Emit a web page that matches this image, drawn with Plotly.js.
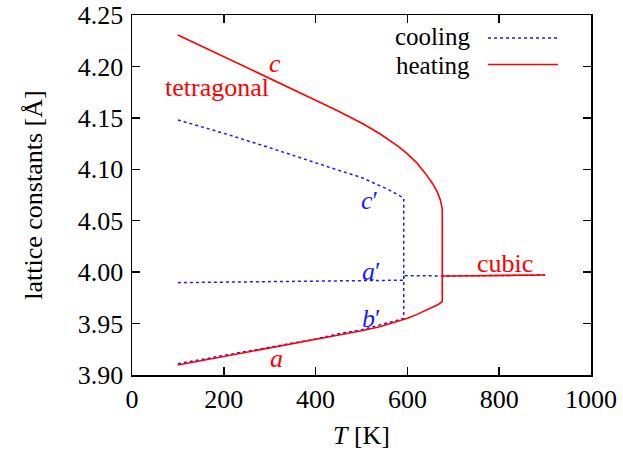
<!DOCTYPE html>
<html>
<head>
<meta charset="utf-8">
<script src="https://cdn.plot.ly/plotly-3.0.1.min.js"></script>
<style>html,body{margin:0;padding:0;background:#fff;}#chart{width:623px;height:453px;}</style>
</head>
<body>
<div id="chart"></div>
<script>
// Heating (tetragonal branch)
const T_heat = [100, 200, 300, 400, 450, 500, 540, 580, 600, 620, 640, 655, 665, 672, 676];
const c_heat = [4.2306, 4.2097, 4.1886, 4.1672, 4.1565, 4.1450, 4.1345, 4.1222, 4.1150, 4.1065, 4.0955, 4.0860, 4.0780, 4.0700, 4.0610];
const a_heat = [3.9097, 3.9180, 3.9258, 3.9340, 3.9382, 3.9430, 3.9470, 3.9520, 3.9552, 3.9587, 3.9627, 3.9658, 3.9681, 3.9700, 3.9715];
// Heating (cubic branch)
const T_cub_heat = [676, 700, 800, 900];
const cub_heat = [3.9963, 3.9963, 3.9967, 3.9972];
// Cooling (tetragonal/orthorhombic branch)
const T_cool = [100, 200, 300, 400, 450, 500, 526, 560, 592];
const c_cool = [4.148, 4.135, 4.121, 4.106, 4.099, 4.092, 4.087, 4.080, 4.072];
const b_cool = [3.911, 3.919, 3.927, 3.935, 3.940, 3.944, 3.947, 3.951, 3.955];
const a_cool = [3.9898, 3.9903, 3.9908, 3.9913, 3.9915, 3.9917, 3.9919, 3.9920, 3.9922];
// Cooling (cubic branch)
const T_cub_cool = [592, 676, 700, 800, 900];
const cub_cool = [3.9966, 3.9963, 3.9963, 3.9967, 3.9972];

const xTicks = [0, 200, 400, 600, 800, 1000];
const FONT = '"Liberation Serif", "Times New Roman", serif';
const RED = '#ff0000';
const BLUE = '#1a1aff';

const blueLine = {color: BLUE, width: 1.5, dash: '3px,3px'};
const redLine = {color: RED, width: 1.6};

const traces = [
  {x: T_cool.concat(T_cub_cool), y: c_cool.concat(cub_cool), mode: 'lines', line: blueLine, name: 'cooling', showlegend: false},
  {x: T_cool.concat([592]), y: b_cool.concat([cub_cool[0]]), mode: 'lines', line: blueLine, showlegend: false},
  {x: T_cool.concat([592]), y: a_cool.concat([cub_cool[0]]), mode: 'lines', line: blueLine, showlegend: false},
  {x: T_heat.concat(T_cub_heat), y: c_heat.concat(cub_heat), mode: 'lines', line: redLine, name: 'heating', showlegend: false},
  {x: T_heat.concat([676]), y: a_heat.concat([cub_heat[0]]), mode: 'lines', line: redLine, showlegend: false}
];

function lab(text, x, y, color) {
  return {text: text, x: x, y: y, xref: 'x', yref: 'y', showarrow: false,
          font: {family: FONT, size: 26, color: color}, xanchor: 'center', yanchor: 'middle'};
}

const layout = {
  width: 623, height: 453,
  margin: {l: 132, r: 32, t: 15, b: 78},
  paper_bgcolor: '#fff', plot_bgcolor: '#fff',
  font: {family: FONT, size: 26, color: '#000'},
  showlegend: false,
  xaxis: {
    range: [0, 1000], tickvals: xTicks, ticktext: xTicks.map(String),
    ticks: 'inside', ticklen: 8, tickwidth: 1.5, tickcolor: '#000',
    showline: true, linecolor: '#000', linewidth: 1.5, mirror: 'ticks',
    showgrid: false, zeroline: false, ticklabelstandoff: 0,
    tickfont: {family: FONT, size: 26, color: '#000'},
    title: {text: '<i>T</i> [K]', font: {family: FONT, size: 26, color: '#000'}, standoff: 13}
  },
  yaxis: {
    range: [3.90, 4.25], dtick: 0.05, tick0: 3.90, tickformat: '.2f',
    ticks: 'inside', ticklen: 8, tickwidth: 1.5, tickcolor: '#000',
    showline: true, linecolor: '#000', linewidth: 1.5, mirror: 'ticks',
    showgrid: false, zeroline: false, ticklabelstandoff: 2,
    tickfont: {family: FONT, size: 26, color: '#000'},
    title: {text: 'lattice constants [Å]', font: {family: FONT, size: 26, color: '#000'}, standoff: 27}
  },
  annotations: [
    lab('<i>c</i>', 311, 4.203, RED),
    lab('tetragonal', 185, 4.180, RED),
    lab('<i>c</i>′', 518, 4.070, BLUE),
    lab('<i>a</i>′', 522, 4.0004, BLUE),
    lab('<i>b</i>′', 522, 3.955, BLUE),
    lab('<i>a</i>', 314, 3.916, RED),
    lab('cubic', 812, 4.0086, RED),
    {text: 'cooling', x: 0.740, y: 0.9389, xref: 'paper', yref: 'paper', showarrow: false,
     xanchor: 'right', yanchor: 'middle', font: {family: FONT, size: 25, color: '#000'}},
    {text: 'heating', x: 0.740, y: 0.8597, xref: 'paper', yref: 'paper', showarrow: false,
     xanchor: 'right', yanchor: 'middle', font: {family: FONT, size: 25, color: '#000'}}
  ],
  shapes: [
    {type: 'line', xref: 'paper', yref: 'paper', x0: 0.7756, x1: 0.928, y0: 0.936, y1: 0.936, line: blueLine},
    {type: 'line', xref: 'paper', yref: 'paper', x0: 0.7756, x1: 0.928, y0: 0.8625, y1: 0.8625, line: redLine}
  ]
};

Plotly.newPlot('chart', traces, layout, {staticPlot: true, displayModeBar: false});
</script>
</body>
</html>
